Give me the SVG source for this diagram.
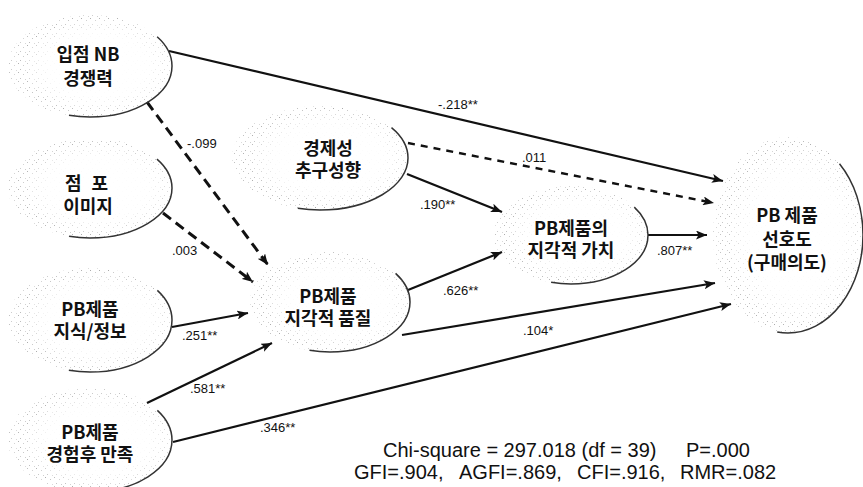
<svg xmlns="http://www.w3.org/2000/svg" width="863" height="487" viewBox="0 0 863 487">
<style>
.st{fill:url(#dots);stroke:none}
.sh{fill:none;stroke:#333;stroke-width:1.5;stroke-dasharray:30 62 8}
.nl{font-family:"Noto Sans CJK KR","Noto Sans",sans-serif;font-size:18px;font-weight:700;fill:#111;text-anchor:middle}
.el{font-family:"Liberation Sans",Arial,sans-serif;font-size:13px;fill:#111}
.fit{font-family:"Liberation Sans",Arial,sans-serif;font-size:20px;fill:#111}
.ln{fill:none;stroke:#111;stroke-width:2.2;marker-end:url(#ah)}
.dsh{stroke-width:3;stroke-dasharray:10 6}
.dsh2{stroke-width:2.4;stroke-dasharray:7 6}
</style>
<defs>
<pattern id="dots" patternUnits="userSpaceOnUse" width="9" height="9">
<rect x="0" y="0" width="1" height="1" fill="#aaa"/>
<rect x="5" y="2" width="1" height="1" fill="#c4c4c4"/>
<rect x="2" y="6" width="1" height="1" fill="#bbb"/>
<rect x="7" y="7" width="1" height="1" fill="#ccc"/>
</pattern>
<radialGradient id="rg" cx="0.55" cy="0.5" r="0.5">
<stop offset="0" stop-color="#000"/>
<stop offset="0.6" stop-color="#111"/>
<stop offset="0.85" stop-color="#999"/>
<stop offset="0.96" stop-color="#fff"/>
<stop offset="1" stop-color="#bbb"/>
</radialGradient>
<mask id="fade" maskContentUnits="objectBoundingBox">
<rect x="0" y="0" width="1" height="1" fill="url(#rg)"/>
</mask>
<marker id="ah" markerUnits="userSpaceOnUse" markerWidth="12" markerHeight="9" refX="11" refY="4.5" orient="auto">
<path d="M0,0 L11,4.5 L0,9 L2.5,4.5 z" fill="#111"/>
</marker>
</defs>

<g id="connectors">
<line class="ln" x1="169" y1="51" x2="723" y2="181"/>
<line class="ln dsh" x1="147" y1="102" x2="268" y2="265"/>
<line class="ln dsh" x1="163" y1="213" x2="253" y2="282"/>
<line class="ln" x1="172" y1="327" x2="248" y2="313"/>
<line class="ln" x1="147" y1="403" x2="272" y2="343"/>
<line class="ln" x1="173" y1="442" x2="731" y2="304"/>
<line class="ln dsh2" x1="408" y1="143" x2="714" y2="203"/>
<line class="ln" x1="407" y1="174" x2="502" y2="212"/>
<line class="ln" x1="408" y1="290" x2="502" y2="252"/>
<line class="ln" x1="402" y1="335" x2="715" y2="283"/>
<line class="ln" x1="648" y1="235" x2="707" y2="235"/>
<text class="el" x="438" y="109">-.218**</text>
<text class="el" x="187" y="148">-.099</text>
<text class="el" x="172" y="255">.003</text>
<text class="el" x="182" y="340">.251**</text>
<text class="el" x="190" y="393">.581**</text>
<text class="el" x="260" y="432">.346**</text>
<text class="el" x="522" y="162">.011</text>
<text class="el" x="420" y="209">.190**</text>
<text class="el" x="443" y="295">.626**</text>
<text class="el" x="523" y="335">.104*</text>
<text class="el" x="657" y="255">.807**</text>
</g>

<g id="n1">
<ellipse class="st" mask="url(#fade)" cx="90" cy="66" rx="82" ry="51"/>
<ellipse class="sh" pathLength="100" cx="90" cy="66" rx="82" ry="51"/>
<text class="nl" x="88" y="61">입점 NB</text>
<text class="nl" x="88" y="85">경쟁력</text>
</g>
<g id="n2">
<ellipse class="st" mask="url(#fade)" cx="90" cy="188" rx="82" ry="50"/>
<ellipse class="sh" pathLength="100" cx="90" cy="188" rx="82" ry="50"/>
<text class="nl" x="88" y="190" letter-spacing="3">점 포</text>
<text class="nl" x="88" y="213">이미지</text>
</g>
<g id="n3">
<ellipse class="st" mask="url(#fade)" cx="90" cy="320" rx="82" ry="52"/>
<ellipse class="sh" pathLength="100" cx="90" cy="320" rx="82" ry="52"/>
<text class="nl" x="90" y="316">PB제품</text>
<text class="nl" x="90" y="338">지식/정보</text>
</g>
<g id="n4">
<ellipse class="st" mask="url(#fade)" cx="90" cy="440" rx="82" ry="52"/>
<ellipse class="sh" pathLength="100" cx="90" cy="440" rx="82" ry="52"/>
<text class="nl" x="90" y="439">PB제품</text>
<text class="nl" x="90" y="461">경험후 만족</text>
</g>
<g id="n5">
<ellipse class="st" mask="url(#fade)" cx="320" cy="158" rx="88" ry="52"/>
<ellipse class="sh" pathLength="100" cx="320" cy="158" rx="88" ry="52"/>
<text class="nl" x="328" y="155">경제성</text>
<text class="nl" x="328" y="177">추구성향</text>
</g>
<g id="n6">
<ellipse class="st" mask="url(#fade)" cx="330" cy="302" rx="80" ry="50"/>
<ellipse class="sh" pathLength="100" cx="330" cy="302" rx="80" ry="50"/>
<text class="nl" x="328" y="303">PB제품</text>
<text class="nl" x="328" y="325">지각적 품질</text>
</g>
<g id="n7">
<ellipse class="st" mask="url(#fade)" cx="571" cy="235" rx="77" ry="49"/>
<ellipse class="sh" pathLength="100" cx="571" cy="235" rx="77" ry="49"/>
<text class="nl" x="571" y="235">PB제품의</text>
<text class="nl" x="571" y="257">지각적 가치</text>
</g>
<g id="n8">
<ellipse class="st" mask="url(#fade)" cx="788" cy="235" rx="75" ry="98"/>
<ellipse class="sh" pathLength="100" cx="788" cy="235" rx="75" ry="98" style="stroke-dasharray:27 59 14"/>
<text class="nl" x="787" y="222">PB 제품</text>
<text class="nl" x="787" y="246">선호도</text>
<text class="nl" x="787" y="269">(구매의도)</text>
</g>

<g id="fit">
<text class="fit" x="383" y="457">Chi-square = 297.018 (df = 39)</text>
<text class="fit" x="686" y="457">P=.000</text>
<text class="fit" x="354" y="479">GFI=.904,</text>
<text class="fit" x="459" y="479">AGFI=.869,</text>
<text class="fit" x="577" y="479">CFI=.916,</text>
<text class="fit" x="680" y="479">RMR=.082</text>
</g>
</svg>
